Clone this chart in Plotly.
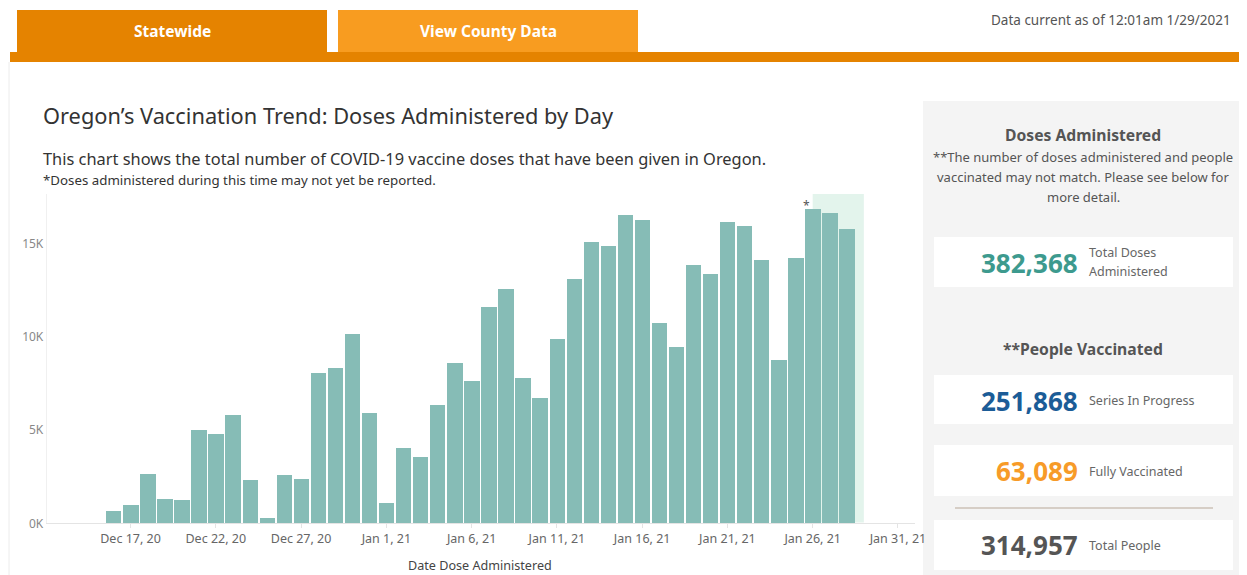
import pandas as pd
import plotly.graph_objects as go

# ---------------- data ----------------
start_date = "2020-12-16"
doses = [680, 960, 2640, 1290, 1230, 5000, 4770, 5800, 2340, 300,
         2600, 2400, 8070, 8300, 10140, 5890, 1070, 4020, 3570, 6320,
         8570, 7625, 11600, 12550, 7790, 6710, 9860, 13120, 15070, 14860,
         16550, 16270, 10710, 9460, 13840, 13340, 16140, 15930, 14120, 8730,
         14230, 16820, 16610, 15800]
dates = pd.date_range(start_date, periods=len(doses), freq="D")

x_tick_dates = ["2020-12-17", "2020-12-22", "2020-12-27", "2021-01-01", "2021-01-06",
                "2021-01-11", "2021-01-16", "2021-01-21", "2021-01-26", "2021-01-31"]
x_tick_labels = ["Dec 17, 20", "Dec 22, 20", "Dec 27, 20", "Jan 1, 21", "Jan 6, 21",
                 "Jan 11, 21", "Jan 16, 21", "Jan 21, 21", "Jan 26, 21", "Jan 31, 21"]
y_tick_vals = [0, 5000, 10000, 15000]
y_tick_labels = ["0K", "5K", "10K", "15K"]

incomplete_start = "2021-01-26"
incomplete_end = "2021-01-29"

total_doses = "382,368"
series_in_progress = "251,868"
fully_vaccinated = "63,089"
total_people = "314,957"
data_current = "Data current as of 12:01am 1/29/2021"

# ---------------- layout helpers ----------------
OFF = 8  # page body margin
W, H = 1247 - OFF, 575 - OFF
def px(x):
    return (x - OFF) / W
def py(y):
    return 1 - (y - OFF) / H

FONT = "Noto Sans"
BAR = "#86bcb6"

fig = go.Figure()
fig.add_trace(go.Bar(
    x=dates, y=doses, width=0.9 * 86400000,
    marker=dict(color=BAR, line=dict(width=0)),
    hovertemplate="%{x|%b %d, %Y}<br>%{y:,}<extra></extra>",
))

shapes = []
annotations = []

def text(t, x, y, size, color, xanchor="left", bold=False):
    annotations.append(dict(text=("<b>%s</b>" % t) if bold else t, xref="paper", yref="paper",
                            x=px(x), y=py(y), xanchor=xanchor, yanchor="middle", showarrow=False,
                            font=dict(family=FONT, size=size, color=color)))

def rect(x0, y0, x1, y1, color, layer="below"):
    shapes.append(dict(type="rect", xref="paper", yref="paper", x0=px(x0), x1=px(x1),
                       y0=py(y1), y1=py(y0), fillcolor=color, line=dict(width=0), layer=layer))

# incomplete-data shading
shapes.append(dict(type="rect", xref="x", yref="paper", x0=incomplete_start, x1=incomplete_end,
                   y0=py(522.5), y1=py(194), fillcolor="#e3f4ec", line=dict(width=0), layer="below"))

# left page border
shapes.append(dict(type="line", xref="paper", yref="paper", x0=px(9), x1=px(9), y0=py(62), y1=py(575),
                   line=dict(color="#ececec", width=1)))

# tabs
rect(17, 10, 327, 52, "#e58300", "above")
rect(338, 10, 638, 52, "#f89c20", "above")
rect(10, 52, 1247, 62, "#e58300", "above")
text("Statewide", 172, 31, 15.5, "white", "center", bold=True)
text("View County Data", 488, 31, 15.5, "white", "center", bold=True)
text(data_current, 1233, 20, 13.5, "#555555", "right")

# titles
text("Oregon’s Vaccination Trend: Doses Administered by Day", 41, 115, 21.8, "#333333")
text("This chart shows the total number of COVID-19 vaccine doses that have been given in Oregon.",
     41, 158, 16.4, "#333333")
text("*Doses administered during this time may not yet be reported.", 41, 180, 13.3, "#333333")

# asterisk above the first incomplete bar
annotations.append(dict(text="*", xref="x", yref="y", x=pd.Timestamp(incomplete_start) - pd.Timedelta(hours=9),
                        y=doses[list(dates).index(pd.Timestamp(incomplete_start))], yanchor="bottom",
                        xanchor="center", showarrow=False, yshift=-7,
                        font=dict(family=FONT, size=12, color="#555555")))

# right panel
rect(923, 101, 1244, 575, "#f4f4f4")
for y0, y1 in [(237, 287), (375, 424), (445, 496), (520, 570)]:
    rect(934, y0, 1233, y1, "white")
shapes.append(dict(type="line", xref="paper", yref="paper", x0=px(955), x1=px(1213), y0=py(508), y1=py(508),
                   line=dict(color="#d6cec6", width=2)))

text("Doses Administered", 1083, 135, 15.7, "#555555", "center", bold=True)
for t, yy in [("**The number of doses administered and people", 157),
              ("vaccinated may not match. Please see below for", 177),
              ("more detail.", 197)]:
    text(t, 1083, yy, 13, "#555555", "center")
text("**People Vaccinated", 1083, 349, 15.7, "#555555", "center", bold=True)

stats = [(total_doses, "#3d9a8e", 263, ["Total Doses", "Administered"], [253, 271]),
         (series_in_progress, "#1b5c97", 401, ["Series In Progress"], [400]),
         (fully_vaccinated, "#f79b28", 471, ["Fully Vaccinated"], [471]),
         (total_people, "#555555", 545, ["Total People"], [545])]
for num, col, yy, labels, lys in stats:
    text(num, 1080, yy, 26, col, "right", bold=True)
    for lab, ly in zip(labels, lys):
        text(lab, 1087, ly, 12.5, "#666666", "left")

text("Date Dose Administered", 480, 565, 12.6, "#444444", "center")

fig.update_layout(
    width=W, height=H,
    margin=dict(l=0, r=0, t=0, b=0),
    paper_bgcolor="white", plot_bgcolor="rgba(0,0,0,0)",
    showlegend=False,
    bargap=0,
    shapes=shapes, annotations=annotations,
    xaxis=dict(domain=[px(46.7), px(915)], type="date",
               range=["2020-12-12 02:00", "2021-02-01 00:00"],
               tickvals=x_tick_dates, ticktext=x_tick_labels,
               tickfont=dict(family=FONT, size=12.5, color="#666666"),
               showgrid=False, zeroline=False, showline=True, linecolor="#e4e4e4", linewidth=1,
               ticks="outside", ticklen=4, tickcolor="#e4e4e4", automargin=False),
    yaxis=dict(domain=[py(523.3), py(194)], range=[0, 17650],
               tickvals=y_tick_vals, ticktext=y_tick_labels,
               tickfont=dict(family=FONT, size=12, color="#888888"),
               showgrid=False, zeroline=False, showline=True, linecolor="#f0f0f0", linewidth=1,
               ticks="", automargin=False),
)

fig.write_html("out.html")
